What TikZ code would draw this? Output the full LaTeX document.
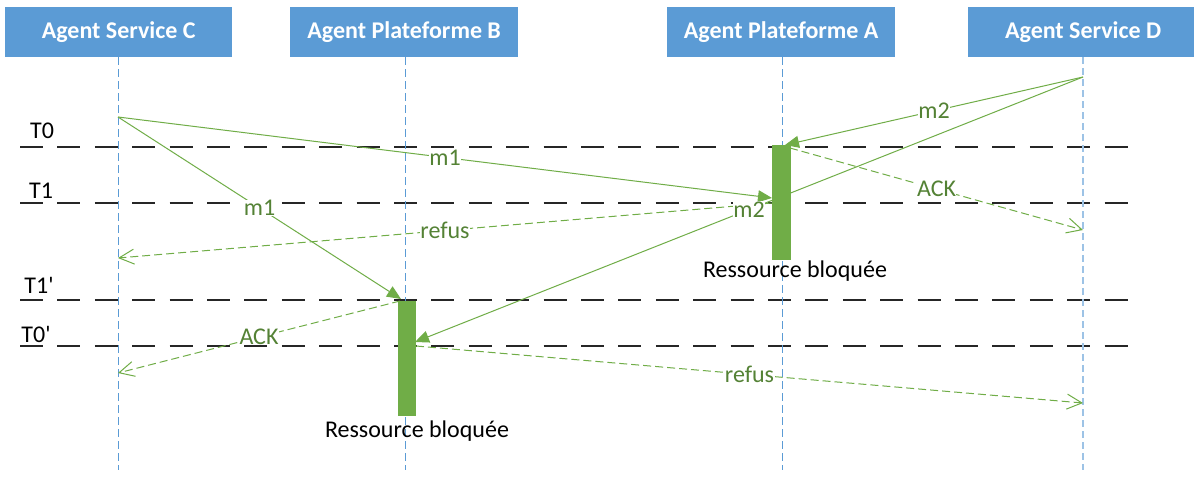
\documentclass[tikz,border=0pt]{standalone}
\usepackage{fontspec}
\setmainfont{Carlito}[Ligatures=TeXOff]
\usetikzlibrary{arrows.meta}
\definecolor{hdr}{HTML}{5B9BD5}
\definecolor{lifeA}{HTML}{5B9BD5}
\definecolor{lifeD}{HTML}{9DC3E6}
\definecolor{grn}{HTML}{70AD47}
\definecolor{grnT}{HTML}{548235}
\definecolor{tline}{HTML}{262626}
\begin{document}
\begin{tikzpicture}[x=1pt,y=-1pt,
  header/.style={fill=hdr, text=white, font=\fontsize{24}{28}\selectfont\bfseries,
    minimum height=50pt, inner sep=0pt, anchor=north west},
  life/.style={draw=lifeA, line width=1pt, dash pattern=on 8pt off 4pt},
  lifeL/.style={draw=lifeD, line width=2pt, dash pattern=on 7pt off 4pt},
  tl/.style={draw=tline, line width=1.5pt, dash pattern=on 23pt off 14.4pt},
  tlab/.style={font=\fontsize{24}{28}\selectfont, anchor=base, inner sep=0pt},
  msg/.style={draw=grn, line width=1pt, -{Triangle[length=14pt,width=12pt]}},
  rep/.style={draw=grn, line width=1pt, dash pattern=on 8pt off 4pt,
    -{Straight Barb[length=15pt,width=15pt]}},
  lbl/.style={fill=white, text=grnT, inner sep=0.5pt, font=\fontsize{24}{26}\selectfont},
  bar/.style={fill=grn, draw=none, inner sep=0pt, anchor=north west},
  note/.style={font=\fontsize{24}{28}\selectfont, anchor=base, inner sep=0pt}]
\useasboundingbox[fill=white] (0,0) rectangle (1194,480);

% headers
\node[header, minimum width=227pt] (hC) at (5,7) {Agent Service C};
\node[header, minimum width=228pt] (hB) at (290,7) {Agent Plateforme B};
\node[header, minimum width=228pt] (hA) at (667,7) {Agent Plateforme A};
\node[header, minimum width=230pt] (hD) at (968,7) {Agent Service D};

% time lines
\coordinate (t0l) at (20,147);  \coordinate (t0r) at (1128,147);
\coordinate (t1l) at (20,203);  \coordinate (t1r) at (1128,203);
\coordinate (t1pl) at (20,300); \coordinate (t1pr) at (1128,300);
\coordinate (t0pl) at (20,346); \coordinate (t0pr) at (1128,346);
\draw[tl] (t0l) -- (t0r);
\draw[tl] (t1l) -- (t1r);
\draw[tl] (t1pl) -- (t1pr);
\draw[tl] (t0pl) -- (t0pr);
\node[tlab] (lt0) at (42,138) {T0};
\node[tlab] (lt1) at (41,198) {T1};
\node[tlab] (lt1p) at (39,293) {T1'};
\node[tlab] (lt0p) at (36,342) {T0'};

% lifelines
\coordinate (lCt) at (118,57);  \coordinate (lCb) at (118,470);
\coordinate (lBt) at (405,57);  \coordinate (lBb) at (405,470);
\coordinate (lAt) at (782,57);  \coordinate (lAb) at (782,470);
\coordinate (lDt) at (1083,57); \coordinate (lDb) at (1083,470);
\draw[life] (lCt) -- (lCb);
\draw[life] (lBt) -- (lBb);
\draw[life] (lAt) -- (lAb);
\draw[lifeL] (lDt) -- (lDb);

% message end points
\coordinate (oC) at (118,117);
\coordinate (oD) at (1083,77);
\coordinate (m1aE) at (772,198);
\coordinate (m1bE) at (401,299);
\coordinate (m2aE) at (785,145);
\coordinate (m2bE) at (415,342);
\coordinate (ackAs) at (790,148);
\coordinate (ackAe) at (1083,230);
\coordinate (refAs) at (772,203);
\coordinate (refAe) at (118,258);
\coordinate (ackBs) at (400,301);
\coordinate (ackBe) at (118,373);
\coordinate (refBs) at (416,346);
\coordinate (refBe) at (1083,403);

% messages
\draw[msg] (oC) -- (m1aE);
\draw[msg] (oC) -- (m1bE);
\draw[msg] (oD) -- (m2aE);
\draw[msg] (oD) -- (m2bE);
\draw[rep] (ackAs) -- (ackAe);
\draw[rep] (refAs) -- (refAe);
\draw[rep] (ackBs) -- (ackBe);
\draw[rep] (refBs) -- (refBe);

% blocked resource bars
\node[bar, minimum width=19pt, minimum height=115pt] (barA) at (772,145) {};
\node[bar, minimum width=18pt, minimum height=115pt] (barB) at (398,301) {};
\node[note] (rA) at (795,277) {Ressource bloquée};
\node[note] (rB) at (417,437) {Ressource bloquée};

% labels
\path (oC) -- (m1aE) node[lbl, midway] (lm1a) {m1};
\path (oC) -- (m1bE) node[lbl, midway] (lm1b) {m1};
\path (oD) -- (m2aE) node[lbl, midway] (lm2a) {m2};
\path (oD) -- (m2bE) node[lbl, midway] (lm2b) {m2};
\path (ackAs) -- (ackAe) node[lbl, midway] (lackA) {ACK};
\path (refAs) -- (refAe) node[lbl, midway] (lrefA) {refus};
\path (ackBs) -- (ackBe) node[lbl, midway] (lackB) {ACK};
\path (refBs) -- (refBe) node[lbl, midway] (lrefB) {refus};
\end{tikzpicture}
\end{document}
